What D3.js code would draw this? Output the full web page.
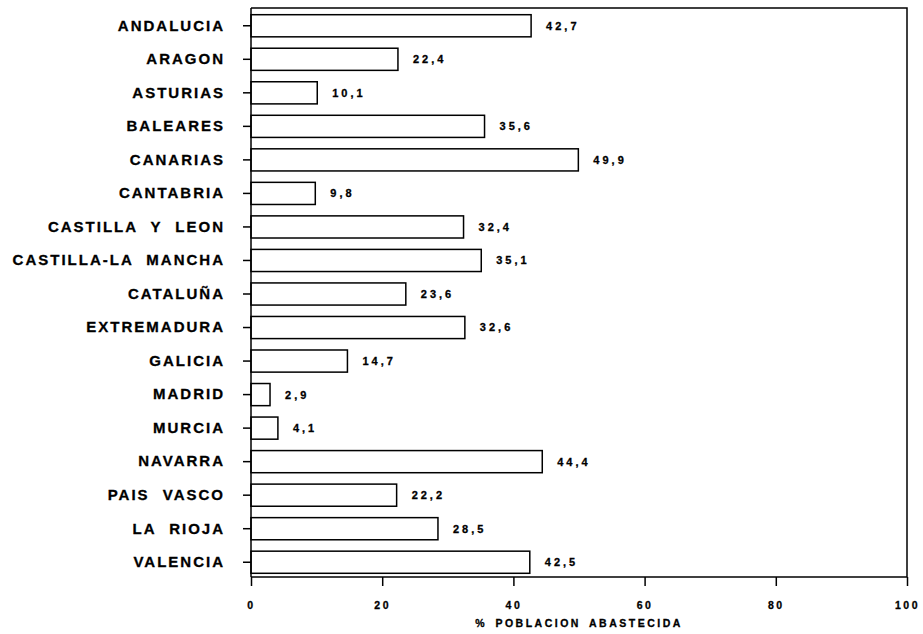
<!DOCTYPE html>
<html>
<head>
<meta charset="utf-8">
<script src="https://cdn.jsdelivr.net/npm/d3@7"></script>
<style>
  body { margin: 0; background: #fff; }
  svg { display: block; }
  text { stroke: #000; stroke-width: 0.3px; }
</style>
</head>
<body>
<div id="chart"></div>
<script>
// --------------- Data ---------------
const regions = [
  "ANDALUCIA", "ARAGON", "ASTURIAS", "BALEARES", "CANARIAS", "CANTABRIA",
  "CASTILLA Y LEON", "CASTILLA-LA MANCHA", "CATALUÑA", "EXTREMADURA",
  "GALICIA", "MADRID", "MURCIA", "NAVARRA", "PAIS VASCO", "LA RIOJA", "VALENCIA"
];
const values = [
  42.7, 22.4, 10.1, 35.6, 49.9, 9.8, 32.4, 35.1, 23.6, 32.6,
  14.7, 2.9, 4.1, 44.4, 22.2, 28.5, 42.5
];
const xTicks = [0, 20, 40, 60, 80, 100];
const xTitle = "% POBLACION ABASTECIDA";

// --------------- Layout ---------------
const WIDTH = 923;
const HEIGHT = 634;
const LEFT = 251, RIGHT = 907, TOP = 8, BOTTOM = 577;
const FONT = "'Liberation Sans', Arial, sans-serif";

const svg = d3.select("#chart")
  .append("svg")
  .attr("width", WIDTH)
  .attr("height", HEIGHT);

const x = d3.scaleLinear().domain([0, 100]).range([LEFT, RIGHT]);
const y = d3.scaleBand().domain(regions).range([TOP + 1, BOTTOM + 2]).paddingInner(0.34).paddingOuter(0.17);

const fmt = v => String(v.toFixed(1)).replace(".", ",");

// frame (top and right sides)
svg.append("path")
  .attr("d", `M${LEFT},${TOP}H${RIGHT}V${BOTTOM}`)
  .attr("fill", "none")
  .attr("stroke", "#000")
  .attr("stroke-width", 1.5);

// bars
svg.append("g")
  .selectAll("rect")
  .data(values)
  .enter()
  .append("rect")
  .attr("x", x(0))
  .attr("y", (d, i) => y(regions[i]))
  .attr("width", d => x(d) - x(0))
  .attr("height", y.bandwidth())
  .attr("fill", "#fff")
  .attr("stroke", "#000")
  .attr("stroke-width", 1.5);

// value labels
svg.append("g")
  .selectAll("text")
  .data(values)
  .enter()
  .append("text")
  .attr("x", d => x(d) + 15)
  .attr("y", (d, i) => y(regions[i]) + y.bandwidth() / 2)
  .attr("dy", "0.36em")
  .attr("font-family", FONT)
  .attr("font-weight", "bold")
  .attr("font-size", 11)
  .attr("letter-spacing", 3)
  .text(fmt);

// y axis
const yAxis = svg.append("g")
  .attr("transform", `translate(${LEFT},0)`)
  .call(d3.axisLeft(y).tickSize(8).tickPadding(18));
yAxis.select(".domain").attr("d", `M0,${TOP}V${BOTTOM}`).attr("stroke-width", 1.5);
yAxis.selectAll(".tick line").attr("stroke-width", 1.5);
yAxis.selectAll(".tick text")
  .attr("font-family", FONT)
  .attr("font-weight", "bold")
  .attr("font-size", 15)
  .attr("letter-spacing", 2)
  .attr("word-spacing", 7)
  .attr("fill", "#000");

// x axis
const xAxis = svg.append("g")
  .attr("transform", `translate(0,${BOTTOM})`)
  .call(d3.axisBottom(x).tickValues(xTicks).tickSize(9).tickPadding(16).tickFormat(d3.format("d")));
xAxis.select(".domain").attr("d", `M${LEFT},0H${RIGHT}`).attr("stroke-width", 1.5);
xAxis.selectAll(".tick line").attr("stroke-width", 1.5);
xAxis.selectAll(".tick text")
  .attr("font-family", FONT)
  .attr("font-weight", "bold")
  .attr("font-size", 10.5)
  .attr("letter-spacing", 2.5)
  .attr("fill", "#000");

svg.append("text")
  .attr("x", (LEFT + RIGHT) / 2)
  .attr("y", 627)
  .attr("text-anchor", "middle")
  .attr("font-family", FONT)
  .attr("font-weight", "bold")
  .attr("font-size", 10.5)
  .attr("letter-spacing", 2.5)
  .attr("word-spacing", 3)
  .text(xTitle);
</script>
</body>
</html>
